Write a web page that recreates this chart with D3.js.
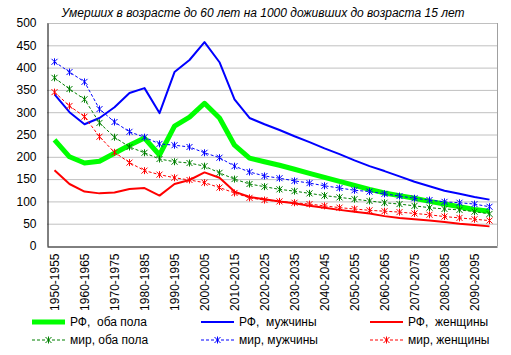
<!DOCTYPE html>
<html><head><meta charset="utf-8">
<script src="https://cdn.jsdelivr.net/npm/d3@7"></script>
<style>
html,body{margin:0;padding:0;background:#fff;}
text{font-family:"Liberation Sans",Arial,sans-serif;}
</style></head>
<body><svg id="c" width="511" height="355"></svg>
<script>
const categories = ["1950-1955","1955-1960","1960-1965","1965-1970","1970-1975","1975-1980","1980-1985","1985-1990","1990-1995","1995-2000","2000-2005","2005-2010","2010-2015","2015-2020","2020-2025","2025-2030","2030-2035","2035-2040","2040-2045","2045-2050","2050-2055","2055-2060","2060-2065","2065-2070","2070-2075","2075-2080","2080-2085","2085-2090","2090-2095","2095-2100"];
const rfBoth = [238,200,186,190,208,226,242,204,269,289,320,287,226,197,189,181,172,163,154,145,136,127,119,113,107,100,94,88,82,78];
const rfMen = [340,300,273,287,311,343,354,298,390,417,457,412,329,287,273,260,246,233,219,206,192,179,168,156,144,134,124,117,110,104];
const rfWomen = [170,139,122,118,120,128,130,113,139,148,165,153,122,110,105,100,96,90,86,81,77,73,67,63,60,57,54,50,47,44];
const worldBoth = [377,352,329,276,244,222,209,195,189,186,179,164,150,139,133,127,123,118,113,109,105,101,97,94,90,86,83,81,77,72];
const worldMen = [413,390,368,307,278,256,244,229,226,222,209,198,179,166,157,152,146,141,135,130,125,122,117,112,107,103,99,97,94,88];
const worldWomen = [345,314,290,245,210,187,169,160,153,148,142,131,119,108,103,100,97,94,90,86,83,80,78,76,73,70,66,63,60,57];
const yTicks = [0,50,100,150,200,250,300,350,400,450,500];
const title = "Умерших в возрасте до 60 лет на 1000 доживших до возраста 15 лет";
const seriesNames = ["РФ,  оба пола","РФ,  мужчины","РФ,  женщины","мир, оба пола","мир, мужчины","мир, женщины"];

const series = [
  {name:seriesNames[0], values:rfBoth, color:"#00ff00", width:5, dash:null, star:false},
  {name:seriesNames[1], values:rfMen, color:"#0000ff", width:2, dash:null, star:false},
  {name:seriesNames[2], values:rfWomen, color:"#ff0000", width:2, dash:null, star:false},
  {name:seriesNames[3], values:worldBoth, color:"#008000", width:1, dash:"3,2", star:true},
  {name:seriesNames[4], values:worldMen, color:"#0000ff", width:1, dash:"3,2", star:true},
  {name:seriesNames[5], values:worldWomen, color:"#ff0000", width:1, dash:"3,2", star:true}
];

const L=47, R=497, T=23, B=246;
const svg = d3.select("#c");
const x = d3.scaleBand().domain(categories).range([L,R]);
const y = d3.scaleLinear().domain([0,500]).range([B,T]);
const cx = c => x(c) + x.bandwidth()/2;

// title
svg.append("text").attr("x",263).attr("y",17).attr("text-anchor","middle")
  .attr("font-size",12).attr("font-style","italic").text(title);

// gridlines
svg.append("g").selectAll("line").data(yTicks.filter(t=>t>0)).join("line")
  .attr("x1",L).attr("x2",R).attr("y1",d=>y(d)+0.5).attr("y2",d=>y(d)+0.5)
  .attr("stroke","#c0c0c0").attr("stroke-width",1);
// frame right
svg.append("line").attr("x1",R+0.5).attr("x2",R+0.5).attr("y1",T).attr("y2",B).attr("stroke","#a0a0a0");

// y axis
const ya = svg.append("g").attr("transform",`translate(${L+0.5},0)`)
  .call(d3.axisLeft(y).tickValues(yTicks).tickSize(0).tickPadding(11));
ya.select(".domain").attr("stroke","#000");
ya.selectAll("text").attr("font-size",12).attr("font-family","Liberation Sans, Arial, sans-serif").attr("fill","#000");

// x axis
const xa = svg.append("g").attr("transform",`translate(0,${B+0.5})`)
  .call(d3.axisBottom(x).tickValues(categories.filter((c,i)=>i%2===0)).tickSize(0).tickPadding(0));
xa.select(".domain").attr("stroke","#000");
xa.selectAll("text").attr("font-size",12).attr("font-family","Liberation Sans, Arial, sans-serif").attr("fill","#000")
  .attr("transform","rotate(-90)").attr("text-anchor","end").attr("x",-7).attr("y",0).attr("dy","0.35em");

const starPath = (s) => `M${-s},${-s}L${s},${s}M${-s},${s}L${s},${-s}M0,${-s-0.5}L0,${s+0.5}`;

const line = d3.line().x((d,i)=>cx(categories[i])).y(d=>y(d));
series.forEach(s=>{
  svg.append("path").attr("d",line(s.values)).attr("fill","none")
    .attr("stroke",s.color).attr("stroke-width",s.width)
    .attr("stroke-dasharray",s.dash).attr("stroke-linejoin","round");
  if(s.star){
    svg.append("g").selectAll("path").data(s.values).join("path")
      .attr("transform",(d,i)=>`translate(${cx(categories[i])},${y(d)})`)
      .attr("d",starPath(3)).attr("stroke",s.color).attr("stroke-width",1).attr("fill","none");
  }
});

// legend
const colX = [32,201,370];
const rowY = [322,340];
series.forEach((s,i)=>{
  const lx = colX[i%3], ly = rowY[Math.floor(i/3)];
  const g = svg.append("g");
  g.append("line").attr("x1",lx).attr("x2",lx+33).attr("y1",ly).attr("y2",ly)
    .attr("stroke",s.color).attr("stroke-width",s.width).attr("stroke-dasharray",s.dash);
  if(s.star) g.append("path").attr("transform",`translate(${lx+16.5},${ly})`).attr("d",starPath(3))
    .attr("stroke",s.color).attr("fill","none");
  g.append("text").attr("x",lx+38).attr("y",ly).attr("dy","0.35em").attr("font-size",12)
    .style("white-space","pre").text(s.name);
});
</script></body></html>
